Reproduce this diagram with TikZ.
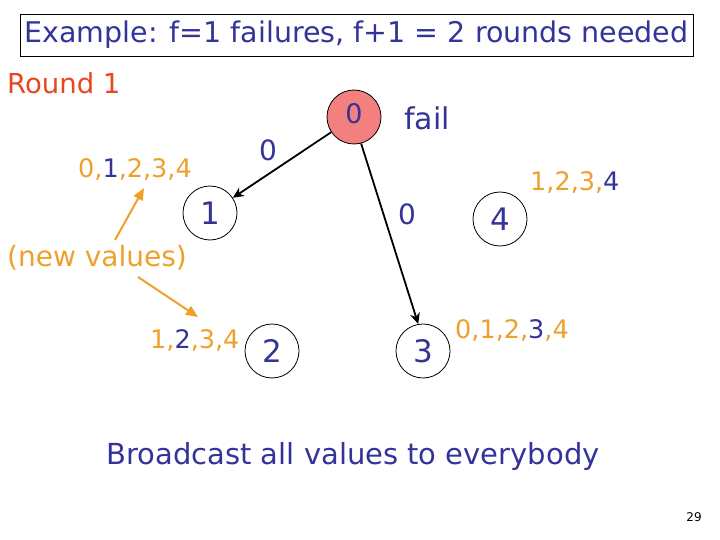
\documentclass[tikz,border=0pt]{standalone}
\usepackage{fontspec}
\setmainfont{DejaVu Sans}
\usetikzlibrary{arrows.meta}
\definecolor{tblue}{HTML}{333399}
\definecolor{torange}{HTML}{EEA02A}
\definecolor{tred}{HTML}{E8461E}
\definecolor{tfill}{HTML}{F47F7F}
\newcommand{\bl}[1]{\textcolor{tblue}{#1}}
\begin{document}
\begin{tikzpicture}[x=1pt,y=-1pt,
  proc/.style={circle,draw=black,line width=0.8pt,minimum size=54pt,inner sep=0pt,text=tblue,font=\fontsize{31}{31}\selectfont},
  lab/.style={text=tblue,font=\fontsize{28}{28}\selectfont,inner sep=0pt},
  vals/.style={text=torange,font=\fontsize{25.5}{25.5}\selectfont,inner sep=0pt},
  msg/.style={-{Stealth[length=11pt,width=10pt]},line width=1.8pt,black},
  note/.style={-{Triangle[length=12pt,width=10pt]},line width=2pt,torange}]
\useasboundingbox (0,0) rectangle (720,540);
\node[draw=black,line width=0.8pt,minimum width=673pt,minimum height=42pt,inner sep=0pt,text=tblue,font=\fontsize{28.5}{28.5}\selectfont] (title) at (356.5,35) {Example: f=1 failures, f+1 = 2 rounds needed};
\node[text=tred,font=\fontsize{27.5}{27.5}\selectfont,anchor=west,inner sep=0pt] (round) at (7,83) {Round 1};
\node[proc,fill=tfill,font=\fontsize{27}{27}\selectfont,text depth=8pt] (p0) at (354,117) {0};
\node[lab,font=\fontsize{30}{30}\selectfont] (fail) at (427,118) {fail};
\node[proc] (p1) at (210,213) {1};
\node[proc] (p4) at (500,219) {4};
\node[proc] (p2) at (272,351) {2};
\node[proc] (p3) at (423,351) {3};
\node[lab] (m01) at (268,150) {0};
\node[lab] (m03) at (407,214) {0};
\node[vals,anchor=west] (v1) at (78,170) {0,\bl{1},2,3,4};
\node[vals,anchor=west] (v4) at (530,183) {1,2,3,\bl{4}};
\node[vals,anchor=west] (v2) at (150,341) {1,\bl{2},3,4};
\node[vals,anchor=west] (v3) at (455,331) {0,1,2,\bl{3},4};
\node[vals,font=\fontsize{28}{28}\selectfont,anchor=west] (nv) at (7,258) {(new values)};
\node[text=tblue,font=\fontsize{29}{29}\selectfont,inner sep=0pt] (bc) at (353,456) {Broadcast all values to everybody};
\node[font=\fontsize{12}{12}\selectfont\rmfamily,inner sep=0pt] (pg) at (694,517) {29};
\coordinate (na) at (115,240);
\coordinate (nb) at (138,277);
\draw[msg] (p0) -- (p1);
\draw[msg] (p0.-75) -- (p3.100);
\draw[note] (na) -- (144,188);
\draw[note] (nb) -- (198,317);
\end{tikzpicture}
\end{document}
